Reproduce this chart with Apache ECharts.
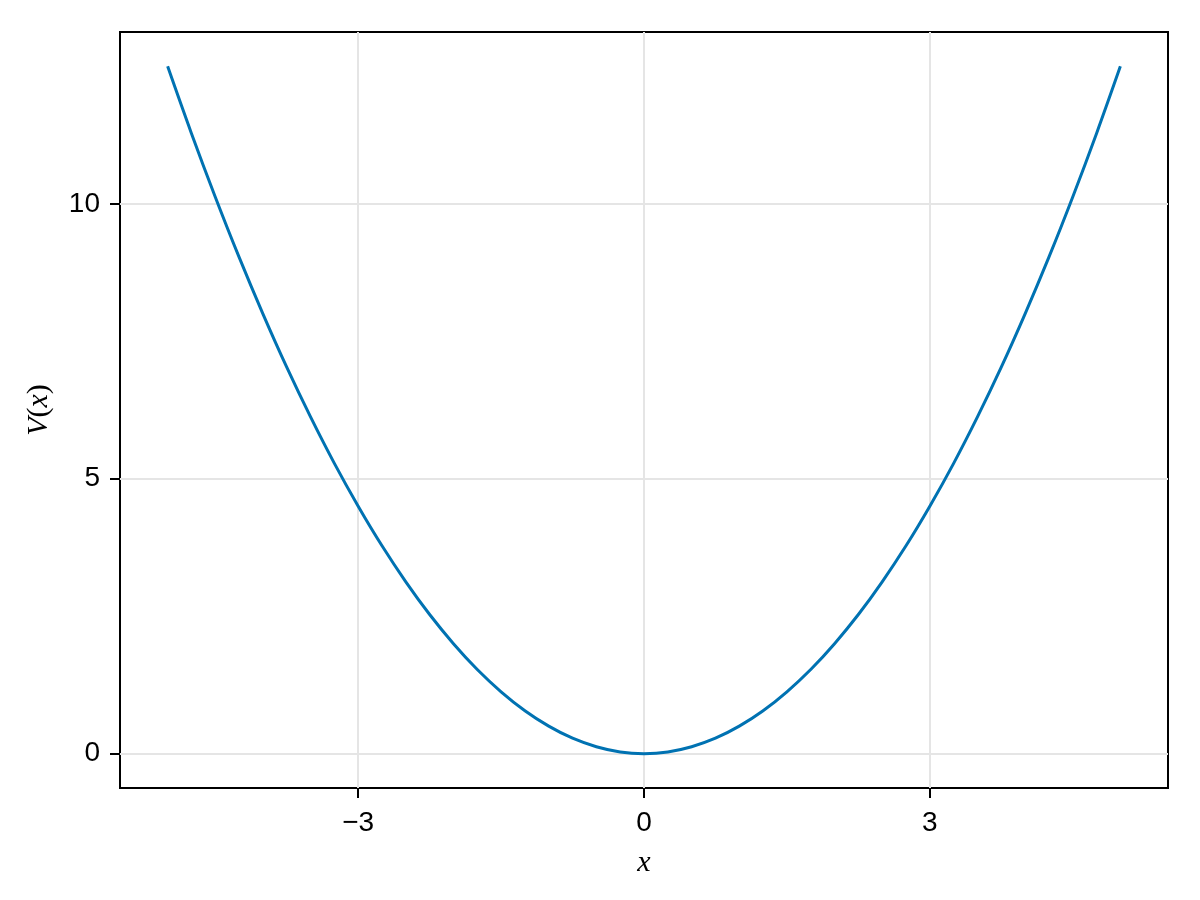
<!DOCTYPE html>
<html>
<head>
<meta charset="utf-8">
<script src="https://cdn.jsdelivr.net/npm/echarts@6/dist/echarts.min.js"></script>
<style>html,body{margin:0;padding:0;background:#fff}#c{width:1200px;height:900px}</style>
</head>
<body>
<div id="c"></div>
<script>
const xs = [-5, -4.75, -4.5, -4.25, -4, -3.75, -3.5, -3.25, -3, -2.75, -2.5, -2.25, -2, -1.75, -1.5, -1.25, -1, -0.75, -0.5, -0.25,
  0, 0.25, 0.5, 0.75, 1, 1.25, 1.5, 1.75, 2, 2.25, 2.5, 2.75, 3, 3.25, 3.5, 3.75, 4, 4.25, 4.5, 4.75, 5];
const vs = [12.5, 11.28, 10.125, 9.03, 8, 7.03, 6.125, 5.28, 4.5, 3.78, 3.125, 2.53, 2, 1.53, 1.125, 0.78, 0.5, 0.28, 0.125, 0.03,
  0, 0.03, 0.125, 0.28, 0.5, 0.78, 1.125, 1.53, 2, 2.53, 3.125, 3.78, 4.5, 5.28, 6.125, 7.03, 8, 9.03, 10.125, 11.28, 12.5];
const xTicks = [-3, 0, 3];
const yTicks = [0, 5, 10];
const xRange = [-5.5, 5.5];
const yRange = [-0.625, 13.125];

const data = xs.map((x, i) => [x, vs[i]]);
const fmt = v => (v < 0 ? '\u2212' + Math.abs(v) : String(v));
const tickFont = {fontFamily: 'Liberation Sans, Arial, sans-serif', fontSize: 28, color: '#000'};
const ital = {fontFamily: 'Liberation Serif, serif', fontStyle: 'italic', fontSize: 30, color: '#000'};
const upr = {fontFamily: 'Liberation Serif, serif', fontSize: 30, color: '#000'};

const chart = echarts.init(document.getElementById('c'), null, {renderer: 'canvas'});
chart.setOption({
  animation: false,
  backgroundColor: '#fff',
  grid: {left: 120, right: 32, top: 32, bottom: 112, show: true, borderColor: '#000', borderWidth: 2, backgroundColor: 'transparent'},
  xAxis: {
    type: 'value', min: xRange[0], max: xRange[1],
    name: '{i|x}', nameLocation: 'middle', nameGap: 60,
    nameTextStyle: {rich: {i: ital}},
    axisLine: {show: false, onZero: false},
    axisTick: {show: true, inside: false, length: 10, lineStyle: {color: '#000', width: 2}, customValues: xTicks},
    axisLabel: Object.assign({margin: 21, customValues: xTicks, formatter: fmt}, tickFont),
    splitLine: {show: true, lineStyle: {color: '#e5e5e5', width: 2}}
  },
  yAxis: {
    type: 'value', min: yRange[0], max: yRange[1],
    name: '{i|V}{n|(}{i|x}{n|)}', nameLocation: 'middle', nameGap: 66, nameRotate: 90,
    nameTextStyle: {rich: {i: ital, n: upr}},
    axisLine: {show: false, onZero: false},
    axisTick: {show: true, inside: false, length: 10, lineStyle: {color: '#000', width: 2}, customValues: yTicks},
    axisLabel: Object.assign({margin: 20, customValues: yTicks, formatter: fmt}, tickFont),
    splitLine: {show: true, lineStyle: {color: '#e5e5e5', width: 2}}
  },
  series: [{
    type: 'line', data: data, showSymbol: false, smooth: 0.35,
    lineStyle: {color: '#0072b2', width: 3}, z: 3
  }]
});
</script>
</body>
</html>
